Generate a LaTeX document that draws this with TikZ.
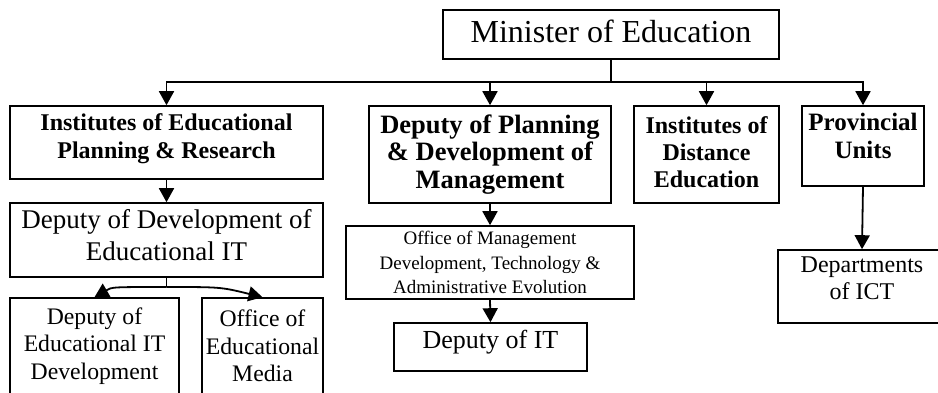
\documentclass[tikz,border=0pt]{standalone}
\usepackage{fontspec}
\setmainfont{Liberation Serif}
\usetikzlibrary{arrows.meta}
\begin{document}
\begin{tikzpicture}[x=1pt,y=-1pt,
  box/.style={draw,line width=1.6pt,inner sep=0pt,align=center},
  conn/.style={line width=1.8pt},
  arr/.style={line width=1.8pt,-{Triangle[width=15pt,length=14pt]}},
  fA/.style={font=\fontsize{32}{36}\selectfont},
  fB/.style={font=\bfseries\fontsize{24}{28}\selectfont},
  fI/.style={font=\bfseries\fontsize{24}{27}\selectfont},
  fP/.style={font=\bfseries\fontsize{25}{28}\selectfont},
  fC/.style={font=\bfseries\fontsize{26.5}{27.5}\selectfont},
  fD/.style={font=\fontsize{27}{32}\selectfont},
  fG/.style={font=\fontsize{26}{30}\selectfont},
  fE/.style={font=\fontsize{23.7}{27.5}\selectfont},
  fH/.style={font=\fontsize{24}{27}\selectfont},
  fF/.style={font=\fontsize{19}{24.5}\selectfont}
]
\useasboundingbox (0,0) rectangle (938,392);
\clip (0,0) rectangle (938,392);
% boxes: center, width, height
\node[box,fA,text depth=6pt,minimum width=336pt,minimum height=49pt] (min) at (611,34.5) {Minister of Education};
\node[box,fB,text depth=13pt,minimum width=313pt,minimum height=73pt] (iep) at (166.5,142.5) {Institutes of Educational\\Planning \& Research};
\node[box,fC,minimum width=242pt,minimum height=97pt] (dpd) at (490,154.5) {Deputy of Planning\\\& Development of\\Management};
\node[box,fI,text depth=4pt,minimum width=145pt,minimum height=97pt] (ide) at (706.5,154.5) {Institutes of\\Distance\\Education};
\node[box,fP,text depth=21pt,minimum width=122pt,minimum height=80pt] (pu) at (863,146) {Provincial\\Units};
\node[box,fD,text depth=10pt,minimum width=313pt,minimum height=74pt] (dde) at (166.5,240) {Deputy of Development of\\Educational IT};
\node[box,fE,minimum width=169pt,minimum height=96pt] (deitd) at (94.5,346) {Deputy of\\Educational IT\\Development};
\node[box,fE,minimum width=121pt,minimum height=96pt] (oem) at (262.5,346) {Office of\\Educational\\Media};
\node[box,fF,text depth=-5pt,minimum width=288pt,minimum height=73pt] (omd) at (490,262.5) {Office of Management\\Development, Technology \&\\Administrative Evolution};
\node[box,fG,text depth=15pt,minimum width=193pt,minimum height=48pt] (dit) at (490.5,347) {Deputy of IT};
\node[box,fH,text depth=16pt,minimum width=168pt,minimum height=73pt] (dict) at (862,286.5) {Departments\\of ICT};
% connectors
\coordinate (bus) at (611,82);
\coordinate (j) at (166.5,287);
\draw[conn] (min.south) -- (bus);
\draw[arr] (bus) -| (iep.north);
\draw[arr] (bus) -| (dpd.north);
\draw[arr] (bus) -| (ide.north);
\draw[arr] (bus) -| (pu.north);
\draw[arr] (iep.south) -- (dde.north);
\draw[conn] (dde.south) -- (j);
\draw[arr] (j) .. controls (112,287) .. (deitd.north);
\draw[arr] (j) .. controls (221,287) .. (oem.north);
\draw[arr] (dpd.south) -- (omd.north);
\draw[arr] (omd.south) -- (dit.north);
\draw[arr] (pu.south) -- (dict.north);
\end{tikzpicture}
\end{document}
